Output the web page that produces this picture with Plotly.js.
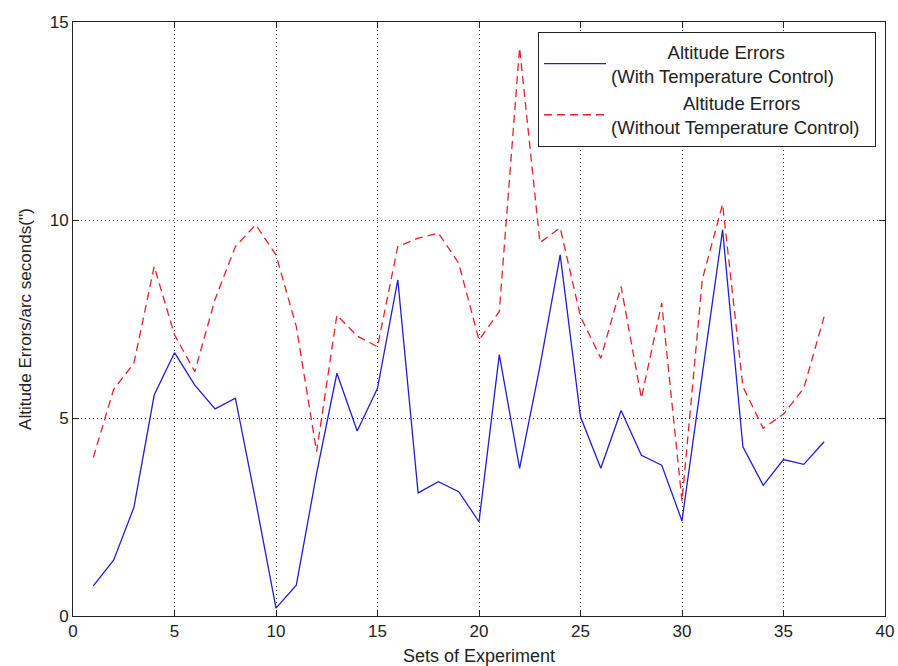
<!DOCTYPE html>
<html>
<head>
<meta charset="utf-8">
<script src="https://cdn.plot.ly/plotly-3.0.1.min.js"></script>
<style>html,body{margin:0;padding:0;background:#fff;}#chart{width:898px;height:666px;}</style>
</head>
<body>
<div id="chart"></div>
<script>
var experimentSets = [1,2,3,4,5,6,7,8,9,10,11,12,13,14,15,16,17,18,19,20,21,22,23,24,25,26,27,28,29,30,31,32,33,34,35,36,37];
var withTempControl = [0.76,1.41,2.74,5.58,6.65,5.83,5.23,5.5,2.9,0.2,0.78,3.6,6.13,4.67,5.75,8.49,3.11,3.39,3.14,2.38,6.6,3.73,6.3,9.12,5.03,3.73,5.19,4.06,3.81,2.4,6.1,9.75,4.27,3.3,3.95,3.83,4.4];
var withoutTempControl = [4.0,5.72,6.38,8.83,7.1,6.17,8.0,9.33,9.88,9.12,7.31,4.15,7.6,7.07,6.8,9.33,9.54,9.67,8.91,6.97,7.69,14.35,9.43,9.8,7.56,6.51,8.32,5.5,7.9,2.9,8.5,10.4,5.79,4.74,5.1,5.75,7.56];
var tickValues = [0,5,10,15,20,25,30,35,40];
var yTickValues = [0,5,10,15];

var nb = '\u00a0';
function pad(n){ return new Array(n+1).join(nb); }

var traces = [
  {
    x: experimentSets, y: withTempControl, type: 'scatter', mode: 'lines',
    name: pad(11) + 'Altitude Errors<br>(With Temperature Control)',
    line: {color: '#1f1fd8', width: 1.3}
  },
  {
    x: experimentSets, y: withoutTempControl, type: 'scatter', mode: 'lines',
    name: pad(14) + 'Altitude Errors<br>(Without Temperature Control)' + pad(2),
    line: {color: '#ea2028', width: 1.3, dash: '8px,5px'}
  }
];

var axisCommon = {
  showline: true, linecolor: '#222', linewidth: 1, mirror: 'allticks',
  ticks: 'inside', ticklen: 6, tickcolor: '#222', tickwidth: 1,
  showgrid: true, gridcolor: '#333', gridwidth: 1, griddash: '1px,3px',
  zeroline: false,
  tickfont: {family: 'Liberation Sans, Arial, sans-serif', size: 17, color: '#222'}
};

var layout = {
  width: 898, height: 666,
  margin: {l: 73, r: 13, t: 22, b: 50, pad: 0},
  paper_bgcolor: '#fff', plot_bgcolor: '#fff',
  showlegend: true,
  xaxis: Object.assign({}, axisCommon, {
    range: [0, 40], tickvals: tickValues, ticktext: tickValues.map(String),
    title: {text: 'Sets of Experiment', standoff: 8,
      font: {family: 'Liberation Sans, Arial, sans-serif', size: 18, color: '#222'}},
    automargin: false
  }),
  yaxis: Object.assign({}, axisCommon, {
    range: [0, 15], tickvals: yTickValues, ticktext: yTickValues.map(String),
    title: {text: "Altitude Errors/arc seconds('')", standoff: 13,
      font: {family: 'Liberation Sans, Arial, sans-serif', size: 17, color: '#222'}},
    automargin: false
  }),
  legend: {
    x: 0.5727, y: 0.983, xanchor: 'left', yanchor: 'top',
    bgcolor: '#fff', bordercolor: '#222', borderwidth: 1,
    font: {family: 'Liberation Sans, Arial, sans-serif', size: 18.5, color: '#222'},
    itemwidth: 62, tracegroupgap: 0
  }
};

Plotly.newPlot('chart', traces, layout, {displayModeBar: false, staticPlot: true});
</script>
</body>
</html>
